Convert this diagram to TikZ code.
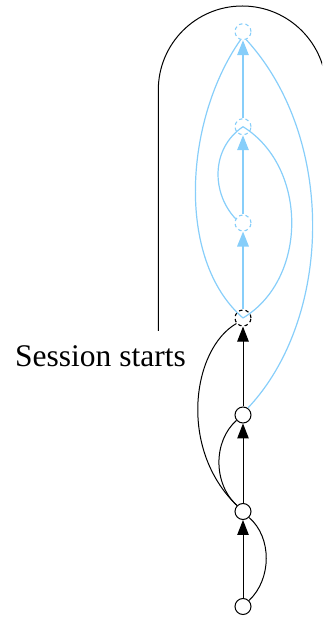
\documentclass[tikz,border=0pt]{standalone}
\usepackage{fontspec}
\setmainfont{Liberation Serif}
\usetikzlibrary{arrows.meta}
\definecolor{lsb}{HTML}{87CEFA}
\begin{document}
\begin{tikzpicture}[x=1pt,y=1pt,
  st/.style={circle,draw=black,fill=white,line width=1pt,minimum size=16pt,inner sep=0pt},
  ds/.style={circle,draw=#1,dash pattern=on 3.5pt off 3pt,line width=1.1pt,minimum size=16pt,inner sep=0pt},
  bk/.style={draw=black,line width=1pt},
  bl/.style={draw=lsb,line width=1.2pt},
  bka/.style={draw=black,line width=1pt,arrows={-Triangle[length=15pt,width=11.5pt]}},
  bla/.style={draw=lsb,line width=1.6pt,arrows={-Triangle[length=15pt,width=11.5pt]}},
  lbl/.style={font=\fontsize{31.5}{36}\selectfont,inner sep=0pt,anchor=base}
]
\useasboundingbox (0,0) rectangle (322,619);

% nodes
\node[st] (n0) at (243,12.5) {};
\node[st] (n1) at (243,107.5) {};
\node[st] (n2) at (243,204) {};
\node[ds=black] (n3) at (243,301) {};
\node[ds=lsb] (n4) at (243,396) {};
\node[ds=lsb] (n5) at (243,492.3) {};
\node[ds=lsb] (n6) at (243,587.3) {};

% label
\node[lbl] (lab) at (100.5,252) {Session starts};

% session loop
\begin{scope}
\clip (0,0) rectangle (322,619);
\draw[bk] (158.3,288) -- (158.3,529) arc[start angle=180,end angle=0,radius=84] -- (326.3,309);
\end{scope}

% black edges
\draw[bka] (n0) -- (n1);
\draw[bka] (n1) -- (n2);
\draw[bka] (n2) -- (n3);
\draw[bk] (n0.45) .. controls (272,40) and (272,82) .. (n1.-45);
\draw[bk] (n1.135) .. controls (213,135) and (213,178) .. (n2.220);
\draw[bk] (n1.135) .. controls (178,170) and (192,270) .. (n3.220);

% blue edges
\draw[bla] (n3) -- (n4);
\draw[bla] (n4) -- (n5);
\draw[bla] (n5) -- (n6);
\draw[bl] (n2.55) .. controls (332,300) and (337,480) .. (n6.-68);
\draw[bl] (n3.center) .. controls (175,360) and (185,500) .. (n6.-107);
\draw[bl] (n4.150) .. controls (212,425) and (210,470) .. (n5.center);
\draw[bl] (n3.center) .. controls (308,340) and (308,452) .. (n5.center);
\end{tikzpicture}
\end{document}
